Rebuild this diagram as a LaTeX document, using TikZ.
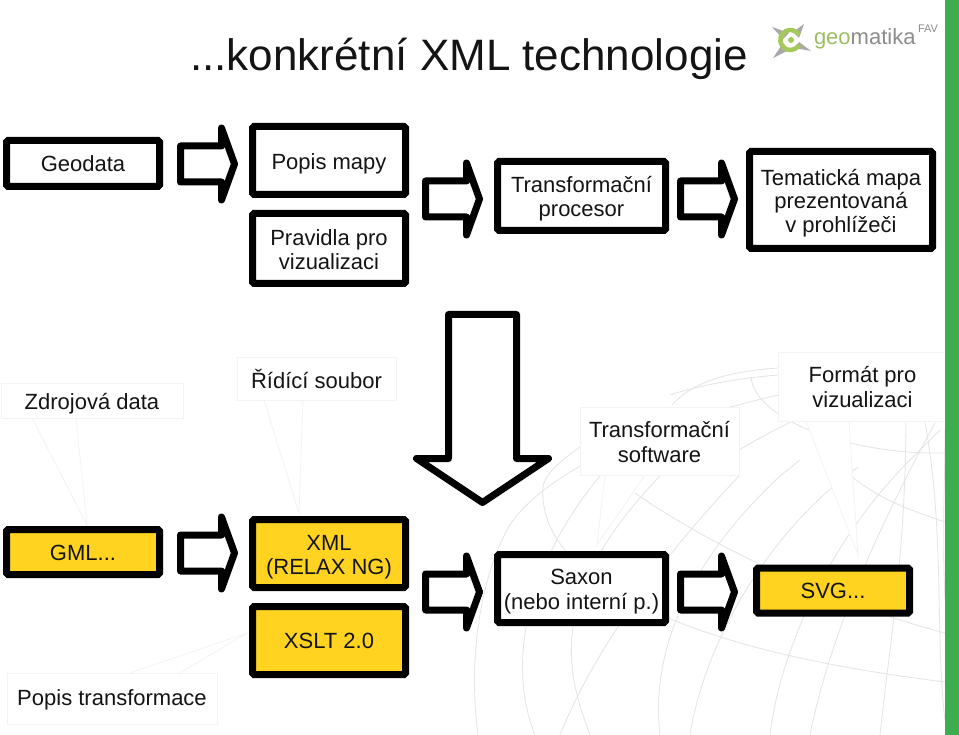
\documentclass[tikz,border=0pt]{standalone}
\usepackage{fontspec}
\setmainfont{Liberation Sans}
\definecolor{boxyellow}{HTML}{FFD320}
\definecolor{barGreen}{HTML}{3CAE4E}
\definecolor{inkdark}{HTML}{141414}
\definecolor{logoGray}{HTML}{8C8C8C}
\definecolor{logoGreen}{HTML}{A3C95A}
\definecolor{globeline}{HTML}{E4E4E4}
\definecolor{calloutedge}{HTML}{F3F3F3}
\newcommand{\blockarrow}[3]{% name, left x, centre y
  \path (#2,#3) coordinate (#1);
  \draw[arrowline] ([shift={(0,-18)}]#1) -- ([shift={(41,-18)}]#1) -- ([shift={(41,-36)}]#1)
    -- ([shift={(54,0)}]#1) -- ([shift={(41,36)}]#1) -- ([shift={(41,18)}]#1) -- ([shift={(0,18)}]#1) -- cycle;
}
\tikzset{
  x=1pt,y=-1pt,
  every node/.style={font=\fontsize{22}{24.5}\selectfont,text=inkdark,align=center,inner sep=0pt,outer sep=0pt},
  every label/.style={draw=none,fill=none,line width=0pt},
  flowbox/.style={draw=black,line width=7pt,rounded corners=1.5pt,fill=white},
  yellowbox/.style={flowbox,fill=boxyellow},
  arrowline/.style={draw=black,line width=7pt,line join=round,fill=white},
  callout/.style={draw=calloutedge,line width=0.8pt,fill=white},
  globe/.style={draw=globeline,line width=0.8pt},
  textdown/.style={execute at begin node={\rule{0pt}{#1}}},
}
\begin{document}
\begin{tikzpicture}
\useasboundingbox (0,0) rectangle (959,735);
\fill[white] (0,0) rectangle (959,735);
% globe
\draw[globe] (478,735) .. controls (468,660) and (480,580) .. (507,530) .. controls (530,485) and (650,400) .. (945,368);
\draw[globe] (543,487) .. controls (540,530) and (570,570) .. (640,605) .. controls (730,650) and (850,670) .. (945,682);
\draw[globe] (580,447) .. controls (555,465) and (545,475) .. (543,487);
\draw[globe] (635,493) .. controls (680,525) and (800,595) .. (945,633);
\draw[globe] (751,377) .. controls (755,420) and (850,455) .. (945,453);
\draw[globe] (850,475) .. controls (880,500) and (910,510) .. (945,522);
\draw[globe] (672,405) .. controls (690,385) and (720,372) .. (778,368);
\draw[globe] (739,450) .. controls (790,420) and (860,385) .. (945,372);
\draw[globe] (670,395) .. controls (700,385) and (740,378) .. (778,375);
% meridians
\draw[globe] (590,735) .. controls (570,680) and (540,600) .. (660,476);
\draw[globe] (535,735) .. controls (505,660) and (530,560) .. (600,476);
\draw[globe] (660,735) .. controls (650,650) and (690,560) .. (780,476) -- (800,460);
\draw[globe] (690,735) .. controls (705,640) and (770,530) .. (858,467);
\draw[globe] (770,735) .. controls (780,650) and (830,540) .. (910,460) -- (940,430);
\draw[globe] (810,735) .. controls (825,660) and (860,560) .. (935,423);
\draw[globe] (880,735) .. controls (890,640) and (905,560) .. (906,423);
\draw[globe] (945,720) .. controls (935,640) and (945,530) .. (925,423);
\draw[globe] (945,600) .. controls (942,530) and (945,480) .. (945,430);
\draw[globe] (560,735) .. controls (590,660) and (650,570) .. (739,476);
% callouts
\draw[callout] (32,418) -- (87,525) -- (76,418);
\node[callout,minimum width=182pt,minimum height=35pt,anchor=north west,textdown=22pt] (zdroj) at (1,383) {Zdrojová data};
\draw[callout] (264,400) -- (299,513) -- (303,400);
\node[callout,minimum width=159pt,minimum height=43pt,anchor=north west] (ridici) at (237,357) {Řídící soubor};
\draw[callout] (605,475) -- (597,545) -- (645,475);
\node[callout,minimum width=159pt,minimum height=68pt,anchor=north west,label={[yshift=-1pt]center:{Transformační\\software}}] (tsoft) at (580,407) {};
\draw[callout] (806,421) -- (858,555) -- (849,421);
\node[callout,minimum width=169pt,minimum height=69pt,anchor=north west,label={[yshift=-0.5pt]center:{Formát pro\\vizualizaci}}] (format) at (778,352) {};
\draw[callout] (130,673) -- (247,633) -- (180,673);
\node[callout,minimum width=210pt,minimum height=51pt,anchor=north west,textdown=18pt] (ptrans) at (7,673) {Popis transformace};
% green bar
\fill[barGreen] (945,0) rectangle (959,735);
% title
\node[font=\fontsize{44}{48}\selectfont,anchor=base] (title) at (469,71) {...konkrétní XML technologie};
% logo
\fill[logoGray!75] (772,27) -- (789,33) -- (783,39) -- cycle;
\fill[logoGray!75] (804,24) -- (799,38) -- (793,32) -- cycle;
\fill[logoGray!75] (773,58) -- (783,43) -- (789,50) -- cycle;
\fill[logoGray!75] (811,51) -- (795,48) -- (799,42) -- cycle;
\draw[logoGreen,line width=4.5pt] (799,35) arc[start angle=-30,end angle=-330,radius=10] ;
\fill[logoGreen] (791,40) circle[radius=3];
\node[font=\fontsize{22}{23}\selectfont,anchor=base west,text=logoGray] (logo) at (814,45) {{\color{logoGreen!80!logoGray}geo}matika};
\node[font=\fontsize{11}{12}\selectfont,anchor=base west,text=logoGray] (fav) at (918,33) {FAV};
% top row
\node[flowbox,minimum width=153pt,minimum height=46pt] (geodata) at (83,163.5) {Geodata};
\node[flowbox,minimum width=153pt,minimum height=68pt,textdown=22pt] (popis) at (329,160.5) {Popis mapy};
\node[flowbox,minimum width=153pt,minimum height=70pt,label={[yshift=-1pt]center:{Pravidla pro\\vizualizaci}}] (pravidla) at (329,248.5) {};
\node[flowbox,minimum width=168pt,minimum height=69pt,label={[yshift=-2.5pt]center:{Transformační\\procesor}}] (proc) at (581.5,196) {};
\node[flowbox,minimum width=183pt,minimum height=97pt,label={[yshift=-3pt,font=\fontsize{22}{23.3}\selectfont]center:{Tematická mapa\\prezentovaná\\v prohlížeči}}] (tema) at (841,200) {};
% bottom row
\node[yellowbox,minimum width=153pt,minimum height=45pt,textdown=18pt] (gml) at (83,552) {GML...};
\node[yellowbox,minimum width=153pt,minimum height=68pt,label={[yshift=-3.5pt]center:{XML\\(RELAX NG)}}] (xml) at (329,553.5) {};
\node[yellowbox,minimum width=153pt,minimum height=68pt] (xslt) at (329,640.5) {XSLT 2.0};
\node[flowbox,minimum width=168pt,minimum height=68pt,label={[yshift=-3pt]center:{Saxon\\(nebo interní p.)}}] (saxon) at (581.5,588.5) {};
\node[yellowbox,minimum width=153pt,minimum height=45pt] (svg) at (833,590.5) {SVG...};
% block arrows
\blockarrow{a1}{180.5}{164}
\blockarrow{a2}{425.5}{199}
\blockarrow{a3}{680.5}{199}
\blockarrow{a4}{180.5}{553}
\blockarrow{a5}{425.5}{592}
\blockarrow{a6}{680.5}{592}
% big down arrow
\path (482.5,314.5) coordinate (bigtop);
\draw[arrowline] ([shift={(-34,0)}]bigtop) -- ([shift={(34,0)}]bigtop) -- ([shift={(34,144)}]bigtop)
  -- ([shift={(66,144)}]bigtop) -- ([shift={(0,188)}]bigtop) -- ([shift={(-66,144)}]bigtop) -- ([shift={(-34,144)}]bigtop) -- cycle;
\end{tikzpicture}
\end{document}
